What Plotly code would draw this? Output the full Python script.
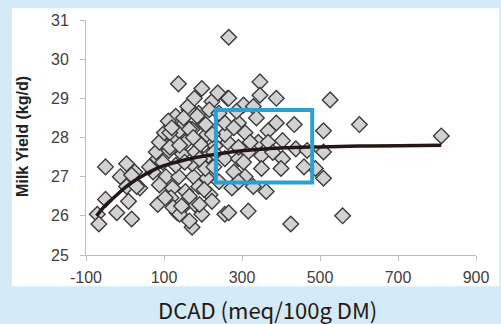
import plotly.graph_objects as go

dcad = [-50, 4, 25, -12, 72, 105, 138, 176, 210, 4, 38, 88, 122, 155, 189, 218, -50, 9, 84, 118,
        147, 180, 223, 256, -71, -67, -21, 17, 134, 172, 197, 17, 30, 63, 84, 97, 130, 172, 206, 80,
        113, 147, 180, 214, 256, 126, 88, 155, 193, 231, 264, 101, 139, 172, 210, 256, 118, 151, 201, 256,
        130, 189, 164, 223, 263, 238, 197, 137, 266, 161, 216, 115, 165, 224, 111, 207, 103, 123, 140, 165,
        203, 191, 145,
        346, 346, 388, 266, 304, 329, 337, 291, 388, 434, 509, 526, 601, 811, 308, 367, 404, 438, 467, 509,
        342, 316, 350, 291, 404, 400, 350, 488, 509, 308, 362, 274, 316, 425, 558, 266, 459,
        153, 191, 228, 279, 304, 241, 291, 329, 165, 115, 228, 291, 321, 279, 367, 379, 241, 286, 178,
        120, 150, 185, 140, 175]
milk = [27.25, 27.33, 27.12, 27.00, 27.12, 27.00, 27.00, 27.00, 26.96, 26.75, 26.71, 26.79, 26.71, 26.62, 26.75, 26.54, 26.42, 26.37, 26.29, 26.46,
        26.21, 26.29, 26.37, 26.04, 26.04, 25.79, 26.08, 25.92, 26.08, 25.71, 26.04, 27.04, 26.75, 27.25, 27.46, 27.37, 27.29, 27.33, 27.21, 27.63,
        27.67, 27.58, 27.63, 27.54, 27.46, 27.96, 27.88, 27.88, 27.83, 27.79, 27.88, 28.12, 28.17, 28.21, 28.08, 28.08, 28.42, 28.37, 28.37, 28.37,
        28.54, 28.62, 28.71, 28.92, 29.00, 29.14, 29.25, 29.37, 30.56, 28.79, 28.71, 28.12, 28.21, 28.08, 28.42, 28.33, 26.46, 26.21, 26.04, 25.87,
        26.67, 26.29, 26.25,
        29.42, 29.08, 29.00, 29.00, 28.83, 28.79, 28.50, 28.37, 28.37, 28.33, 28.17, 28.96, 28.33, 28.04, 28.12, 28.17, 27.92, 27.71, 27.67, 27.63,
        27.88, 27.63, 27.54, 27.46, 27.46, 27.21, 27.21, 27.21, 26.96, 27.00, 26.62, 26.71, 26.12, 25.79, 26.00, 26.08, 27.25,
        27.37, 27.45, 27.25, 27.12, 27.37, 26.87, 26.87, 26.75, 26.50, 27.75, 27.62, 27.75, 27.88, 28.25, 27.88, 27.62, 28.62, 28.67, 29.00,
        28.25, 28.5, 28.55, 27.8, 28.0]

# Fitted curve
curve_x = [-73, -50, -25, 0, 25, 50, 75, 100, 150, 200, 250, 300, 400, 500, 600, 700, 811]
curve_y = [26.0, 26.27, 26.5, 26.72, 26.9, 27.05, 27.18, 27.28, 27.42, 27.52, 27.6, 27.66, 27.73, 27.76, 27.78, 27.79, 27.8]

# Highlight box (data units)
box_x = [233, 480]
box_y = [26.85, 28.7]

x_ticks = [-100, 100, 300, 500, 700, 900]
x_tick_labels = ["-100", "100", "300", "500", "700", "900"]
y_ticks = [25, 26, 27, 28, 29, 30, 31]

fig = go.Figure()
fig.add_trace(go.Scatter(
    x=dcad, y=milk, mode="markers",
    marker=dict(symbol="diamond", size=12, color="#d2d2d2",
                line=dict(color="#3a3a3a", width=1.4)),
    hoverinfo="x+y", showlegend=False))
fig.add_trace(go.Scatter(
    x=curve_x, y=curve_y, mode="lines",
    line=dict(color="#231815", width=3.5, shape="spline"),
    showlegend=False))

fig.add_shape(type="rect", xref="x", yref="y",
              x0=box_x[0], x1=box_x[1], y0=box_y[0], y1=box_y[1],
              line=dict(color="#2e9fd4", width=4), fillcolor="rgba(0,0,0,0)", layer="above")
# white card behind the chart
fig.add_shape(type="rect", xref="paper", yref="paper",
              x0=-0.19, x1=1.06, y0=-0.1333, y1=1.05,
              line=dict(width=0), fillcolor="white", layer="below")

axis_common = dict(showgrid=False, zeroline=False, showline=True, linecolor="#bdbdbd", linewidth=1,
                   ticks="outside", tickcolor="#bdbdbd", ticklen=5, tickwidth=1,
                   tickfont=dict(family="Liberation Sans, Arial", size=16, color="#404040"))

fig.update_xaxes(range=[-100, 900], tickvals=x_ticks, ticktext=x_tick_labels,
                 ticklabelstandoff=3, **axis_common)
fig.update_yaxes(range=[25, 31], tickvals=y_ticks, ticklabelstandoff=8, **axis_common)

fig.add_annotation(text="Milk Yield (kg/d)", xref="paper", yref="paper",
                   x=-0.1646, y=0.506, textangle=-90, showarrow=False,
                   xanchor="center", yanchor="middle",
                   font=dict(family="Liberation Sans, Arial", size=16, color="#222222", weight="bold"))
fig.add_annotation(text="DCAD (meq/100g DM)", xref="paper", yref="paper",
                   x=0.466, y=-0.229, showarrow=False, xanchor="center", yanchor="middle",
                   font=dict(family="Noto Sans CJK JP, Noto Sans", size=22, color="#231815"))

fig.update_layout(width=501, height=324,
                  margin=dict(l=86, r=20, t=15, b=69),
                  paper_bgcolor="#d5eaf7", plot_bgcolor="white",
                  showlegend=False)

fig.write_html("out.html", config={"displayModeBar": False},
               post_script="document.body.style.margin='0';document.body.style.overflow='hidden';")
